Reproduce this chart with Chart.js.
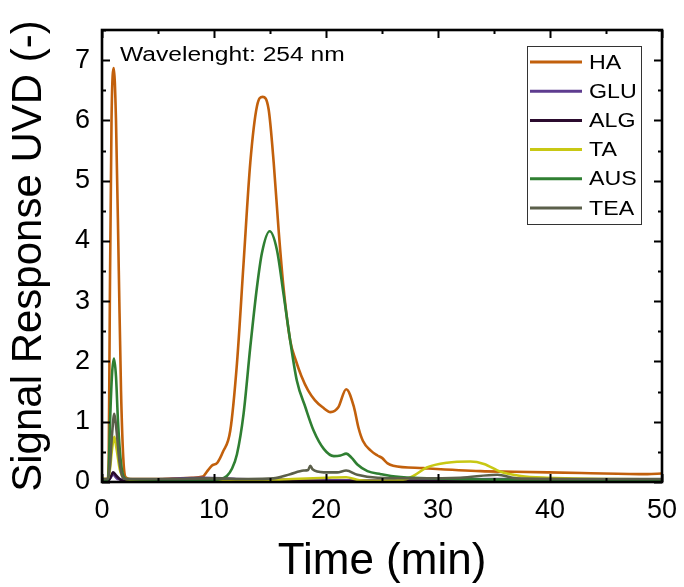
<!DOCTYPE html>
<html>
<head>
<meta charset="utf-8">
<script src="https://cdn.jsdelivr.net/npm/chart.js@4.4.0/dist/chart.umd.min.js"></script>
<style>
  body { margin: 0; background: #fff; }
  #wrap { width: 684px; height: 587px; }
</style>
</head>
<body>
<div id="wrap"><canvas id="uvdChart"></canvas></div>
<script>
// series names + colours
const seriesNames = ['HA', 'GLU', 'ALG', 'TA', 'AUS', 'TEA'];
const seriesColors = ['#c2600c', '#5e3c8f', '#2b0b2e', '#c8c814', '#2f7f32', '#5b5f4a'];

// time (min) / signal pairs
const haTime = [0, 0.5, 0.6, 0.7, 0.85, 1.05, 1.25, 1.5, 1.7, 1.9, 2.1, 2.5, 5, 8, 9.0, 9.4, 9.8, 10.3, 10.8, 11.45, 12.05, 12.64, 13.24, 13.84, 14.34, 14.88, 15.33, 15.77, 16.2, 16.8, 17.3, 17.8, 18.4, 19.0, 19.7, 20.4, 21.1, 21.8, 22.5, 22.9, 23.3, 24.0, 24.6, 25.0, 25.5, 26.0, 28.7, 33.8, 36.8, 42.8, 48.7, 50];
const haValue = [0.05, 0.05, 0.4, 3.0, 6.0, 6.87, 6.0, 3.5, 1.5, 0.4, 0.08, 0.05, 0.05, 0.07, 0.09, 0.18, 0.27, 0.32, 0.5, 0.85, 1.97, 3.63, 5.3, 6.24, 6.39, 6.18, 5.3, 4.18, 3.24, 2.35, 2.02, 1.76, 1.52, 1.36, 1.24, 1.16, 1.24, 1.54, 1.24, 0.9, 0.68, 0.52, 0.44, 0.4, 0.31, 0.27, 0.23, 0.18, 0.17, 0.15, 0.13, 0.14];

const gluTime = [0, 0.6, 1.0, 1.4, 2.0, 6, 9, 12, 16, 20, 25, 30, 35, 40, 45, 50];
const gluValue = [0.03, 0.04, 0.12, 0.05, 0.04, 0.05, 0.07, 0.05, 0.04, 0.03, 0.03, 0.04, 0.05, 0.05, 0.04, 0.03];

const algTime = [0, 0.6, 1.0, 1.3, 1.7, 2.2, 10, 20, 30, 40, 50];
const algValue = [0.02, 0.03, 0.16, 0.1, 0.03, 0.01, 0.01, 0.01, 0.01, 0.01, 0.01];

const taTime = [0, 0.5, 0.7, 0.9, 1.1, 1.3, 1.6, 2.0, 2.5, 10, 15, 17, 20, 21.8, 23, 25, 27, 27.8, 29.0, 30.8, 32.9, 34.1, 35.6, 37.4, 39.7, 45, 50];
const taValue = [0.05, 0.05, 0.2, 0.55, 0.75, 0.55, 0.2, 0.06, 0.04, 0.03, 0.03, 0.05, 0.07, 0.08, 0.03, 0.02, 0.04, 0.1, 0.24, 0.32, 0.34, 0.3, 0.17, 0.1, 0.07, 0.05, 0.04];

const ausTime = [0, 0.5, 0.6, 0.72, 0.9, 1.07, 1.25, 1.43, 1.65, 1.9, 2.2, 5, 10, 10.6, 11.15, 11.6, 12.05, 12.64, 13.24, 13.84, 14.28, 14.97, 15.62, 16.2, 16.8, 17.4, 18.16, 18.9, 19.8, 20.7, 21.3, 21.8, 22.3, 22.8, 23.7, 24.9, 25.8, 27.8, 35, 50];
const ausValue = [0.04, 0.04, 0.2, 1.0, 1.8, 2.05, 1.75, 1.0, 0.4, 0.1, 0.05, 0.04, 0.04, 0.05, 0.1, 0.22, 0.46, 1.13, 2.24, 3.24, 3.8, 4.16, 3.85, 3.13, 2.35, 1.68, 1.24, 0.85, 0.55, 0.43, 0.44, 0.47, 0.4, 0.29, 0.18, 0.13, 0.1, 0.07, 0.04, 0.03];

const teaTime = [0, 0.5, 0.7, 0.9, 1.1, 1.3, 1.55, 1.8, 2.1, 5, 10, 13, 15.3, 16.8, 18.0, 18.4, 18.6, 18.8, 19.8, 21.0, 21.8, 22.8, 24.6, 28, 32, 35.3, 37, 42, 50];
const teaValue = [0.05, 0.05, 0.25, 0.8, 1.13, 0.85, 0.35, 0.1, 0.05, 0.05, 0.06, 0.05, 0.06, 0.13, 0.19, 0.2, 0.27, 0.21, 0.16, 0.16, 0.19, 0.12, 0.07, 0.06, 0.07, 0.12, 0.06, 0.05, 0.05];

const xTicks = [0, 10, 20, 30, 40, 50];
const yTicks = [0, 1, 2, 3, 4, 5, 6, 7];
const noteText = 'Wavelenght: 254 nm';

const allTimes = [haTime, gluTime, algTime, taTime, ausTime, teaTime];
const allValues = [haValue, gluValue, algValue, taValue, ausValue, teaValue];

function toPoints(t, v) {
    return t.map(function(x, i) { return { x: x, y: v[i] }; });
}

const datasets = seriesNames.map(function(name, i) {
    return {
        label: name,
        data: toPoints(allTimes[i], allValues[i]),
        borderColor: seriesColors[i],
        backgroundColor: seriesColors[i],
        borderWidth: 2.6,
        pointRadius: 0,
        cubicInterpolationMode: 'monotone',
        fill: false,
        order: seriesNames.length - i   // TEA ends up on top
    };
});

const FONT = "'Liberation Sans', Arial, sans-serif";

// frame + inward ticks on all four sides, legend box, note
const framePlugin = {
    id: 'frame',
    afterDraw: function(chart) {
        const ctx = chart.ctx;
        const a = chart.chartArea;
        const xs = chart.scales.x;
        const ys = chart.scales.y;
        ctx.save();
        ctx.strokeStyle = '#000';
        ctx.lineWidth = 2;
        ctx.beginPath();
        for (let t = 0; t <= 50; t += 5) {
            const px = Math.round(xs.getPixelForValue(t)) + 0.5;
            const len = (t % 10 === 0) ? 8 : 4;
            ctx.moveTo(px, a.bottom); ctx.lineTo(px, a.bottom - len);
            ctx.moveTo(px, a.top); ctx.lineTo(px, a.top + len);
        }
        for (let v = 0; v <= 7.5; v += 0.5) {
            const py = Math.round(ys.getPixelForValue(v)) + 0.5;
            const len = (v % 1 === 0) ? 8 : 4;
            ctx.moveTo(a.left, py); ctx.lineTo(a.left + len, py);
            ctx.moveTo(a.right, py); ctx.lineTo(a.right - len, py);
        }
        ctx.stroke();
        ctx.lineWidth = 2.6;
        ctx.strokeRect(a.left, a.top, a.right - a.left, a.bottom - a.top);

        // note text, slightly widened like the original
        ctx.fillStyle = '#000';
        ctx.font = '20px ' + FONT;
        ctx.textBaseline = 'alphabetic';
        ctx.save();
        ctx.translate(a.left + 18, 61);
        ctx.scale(1.23, 1);
        ctx.fillText(noteText, 0, 0);
        ctx.restore();

        // legend
        const bx = a.right - 135, by = a.top + 16, bw = 114, bh = 178;
        ctx.lineWidth = 1;
        ctx.strokeStyle = '#333';
        ctx.strokeRect(bx + 0.5, by + 0.5, bw, bh);
        seriesNames.forEach(function(name, i) {
            const ry = by + 16 + i * 29.2;
            ctx.strokeStyle = seriesColors[i];
            ctx.lineWidth = 3;
            ctx.beginPath();
            ctx.moveTo(bx + 3, ry);
            ctx.lineTo(bx + 55, ry);
            ctx.stroke();
            ctx.save();
            ctx.translate(bx + 62, ry);
            ctx.scale(1.16, 1);
            ctx.fillStyle = '#000';
            ctx.textBaseline = 'middle';
            ctx.font = '20px ' + FONT;
            ctx.fillText(name, 0, 1);
            ctx.restore();
        });
        ctx.restore();
    }
};

window.addEventListener('load', function() {
    const canvas = document.getElementById('uvdChart');
    new Chart(canvas.getContext('2d'), {
        type: 'line',
        data: { datasets: datasets },
        options: {
            responsive: true,
            maintainAspectRatio: false,
            animation: false,
            layout: { padding: { top: 30, right: 22, left: 0, bottom: 0 } },
            plugins: {
                legend: { display: false },
                tooltip: { enabled: false }
            },
            scales: {
                x: {
                    type: 'linear',
                    min: 0,
                    max: 50,
                    afterFit: function(scale) {
                        scale.height = 105;
                        // the last label may hang over the edge, like the original
                        scale.paddingLeft = 0;
                        scale.paddingRight = 0;
                    },
                    afterBuildTicks: function(scale) {
                        scale.ticks = xTicks.map(function(v) { return { value: v }; });
                    },
                    grid: { display: false, drawTicks: false },
                    border: { display: false },
                    ticks: {
                        color: '#000',
                        padding: 12,
                        maxRotation: 0,
                        font: { family: FONT, size: 27 }
                    },
                    title: {
                        display: true,
                        text: 'Time (min)',
                        color: '#000',
                        padding: { top: 0, bottom: 3 },
                        font: { family: FONT, size: 44, lineHeight: 1 }
                    }
                },
                y: {
                    type: 'linear',
                    min: 0,
                    max: 7.5,
                    afterFit: function(scale) {
                        scale.width = 102;
                        scale.paddingTop = 0;
                        scale.paddingBottom = 0;
                    },
                    afterBuildTicks: function(scale) {
                        scale.ticks = yTicks.map(function(v) { return { value: v }; });
                    },
                    grid: { display: false, drawTicks: false },
                    border: { display: false },
                    ticks: {
                        color: '#000',
                        padding: 12,
                        font: { family: FONT, size: 27 }
                    },
                    title: {
                        display: true,
                        text: 'Signal Response UVD (-)',
                        color: '#000',
                        padding: { top: 8, bottom: 0 },
                        font: { family: FONT, size: 42, lineHeight: 1 }
                    }
                }
            }
        },
        plugins: [framePlugin]
    });
});
</script>
</body>
</html>
